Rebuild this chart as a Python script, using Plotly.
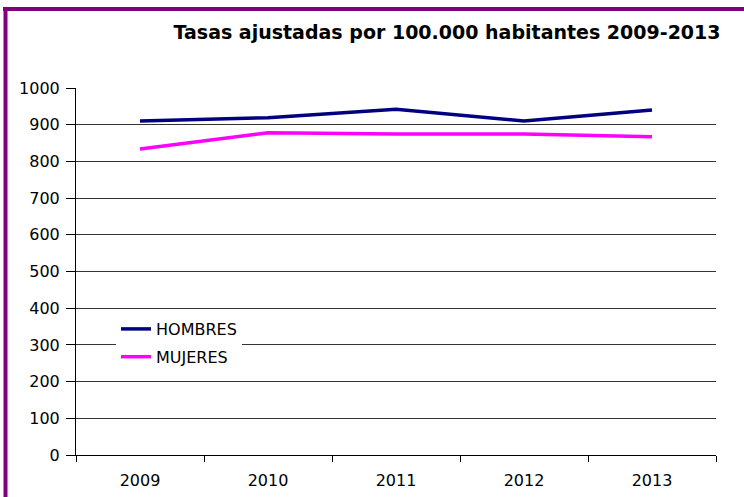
import plotly.graph_objects as go

years = ["2009", "2010", "2011", "2012", "2013"]
hombres = [910, 919, 942, 910, 940]
mujeres = [834, 878, 875, 875, 867]
title_text = "Tasas ajustadas por 100.000 habitantes 2009-2013"

W, H = 744, 497
ml, mr, mt, mb = 76, 28, 88, 42
pw, ph = W - ml - mr, H - mt - mb

def px_x(px):
    return (px - ml) / pw

def px_y(py):
    return (H - mb - py) / ph

fig = go.Figure()
fig.add_trace(go.Scatter(x=years, y=hombres, name="HOMBRES", mode="lines",
                         line=dict(color="#000080", width=3.5), legendgroup="a"))
fig.add_trace(go.Scatter(x=years, y=mujeres, name="MUJERES", mode="lines",
                         line=dict(color="#FF00FF", width=3.5), legendgroup="b"))

purple = "#800080"
fig.add_shape(type="line", xref="paper", yref="paper",
              x0=px_x(3), x1=px_x(W + 2), y0=px_y(9), y1=px_y(9),
              line=dict(color=purple, width=4))
fig.add_shape(type="line", xref="paper", yref="paper",
              x0=px_x(5.5), x1=px_x(5.5), y0=px_y(7), y1=px_y(H + 2),
              line=dict(color=purple, width=4))

font_family = "DejaVu Sans, Liberation Sans, Arial, sans-serif"

fig.update_layout(
    width=W, height=H,
    margin=dict(l=ml, r=mr, t=mt, b=mb, autoexpand=False),
    paper_bgcolor="white", plot_bgcolor="white",
    font=dict(family=font_family, color="black", size=16),
    title=dict(text="<b>" + title_text + "</b>", x=px_x(447), xanchor="center",
               xref="paper", y=1 - 32 / H, yanchor="middle",
               font=dict(size=19, color="black")),
    showlegend=True,
    legend=dict(x=px_x(116), y=px_y(312), xanchor="left", yanchor="top",
                bgcolor="white", borderwidth=0, font=dict(size=16),
                traceorder="grouped", tracegroupgap=4),
    xaxis=dict(type="category", range=[-0.5, 4.5], showgrid=False, showline=True,
               linecolor="black", linewidth=1, ticks="outside", tickson="boundaries",
               ticklen=6, tickcolor="black", ticklabelstandoff=11, fixedrange=True,
               automargin=False),
    yaxis=dict(range=[0, 1000], dtick=100, showgrid=True, gridcolor="#333333",
               gridwidth=1, showline=True, linecolor="black", linewidth=1,
               ticks="outside", ticklen=9, tickcolor="black", zeroline=False,
               ticklabelstandoff=3, fixedrange=True, automargin=False),
)

fig.write_html("out.html", config={"displayModeBar": False},
               post_script="document.body.style.margin='0';document.body.style.overflow='hidden';")
